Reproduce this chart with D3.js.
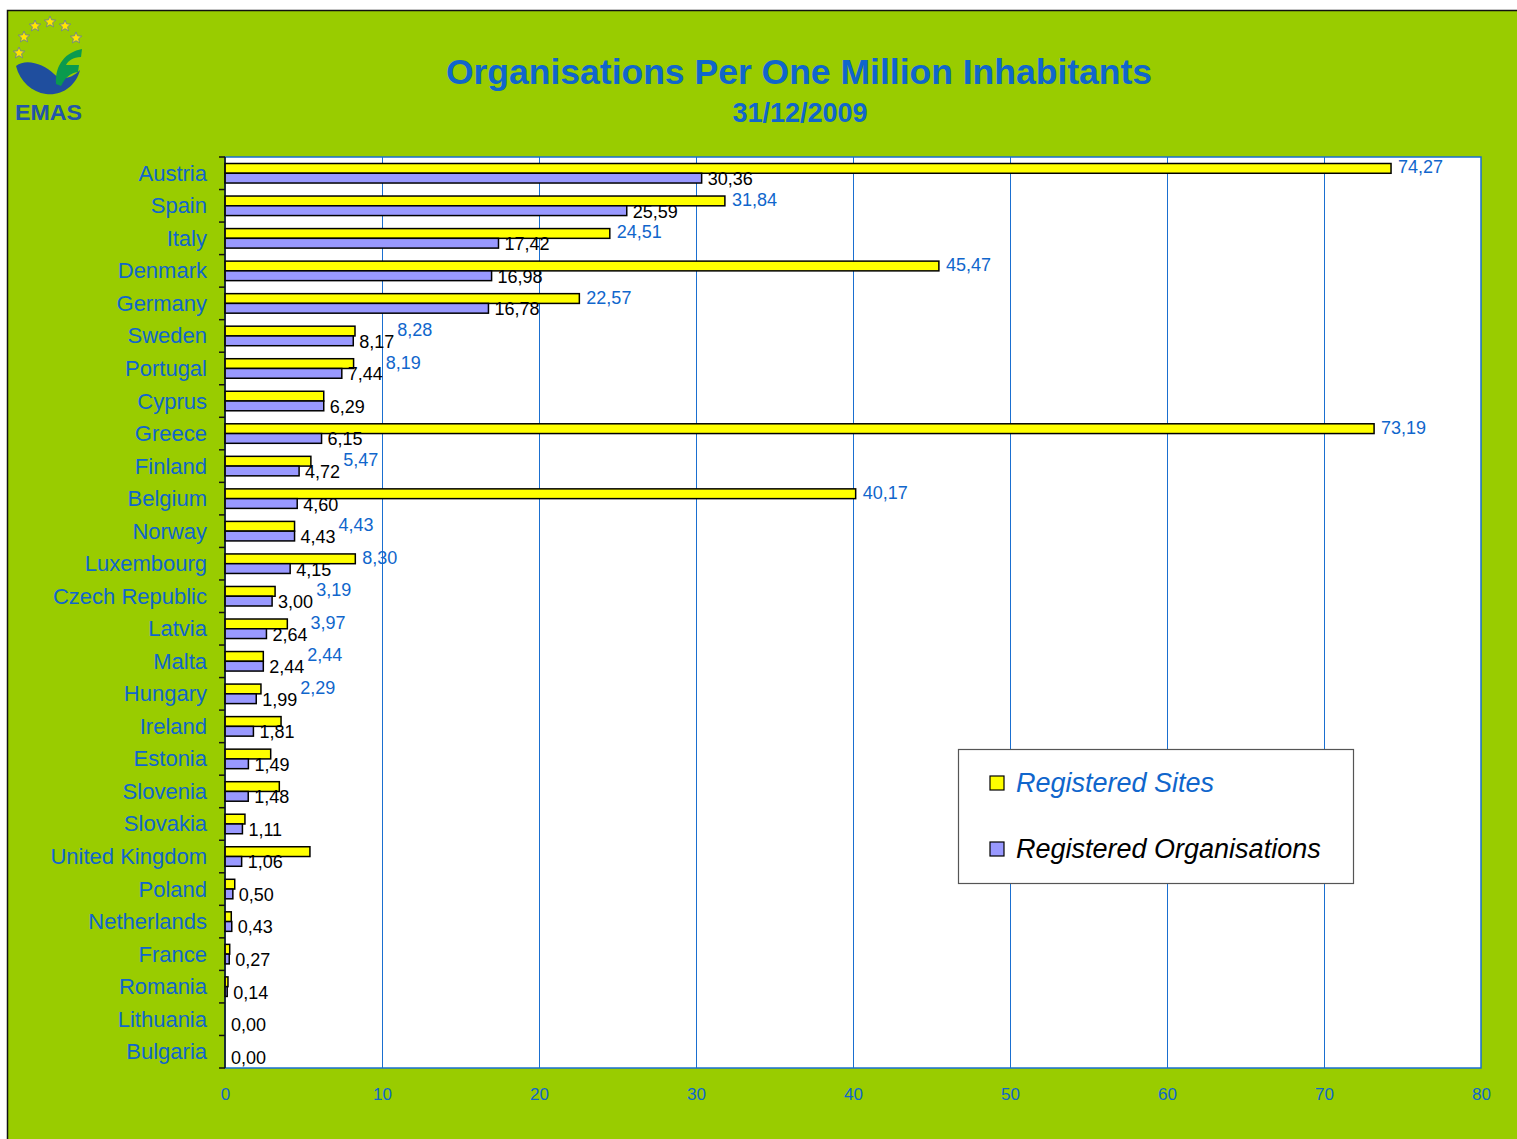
<!DOCTYPE html>
<html><head><meta charset="utf-8">
<script src="https://cdn.jsdelivr.net/npm/d3@7"></script>
<style>body{margin:0;background:#fff;}svg{display:block;font-family:"Liberation Sans",Arial,sans-serif;}</style>
</head><body>
<script>
const categories = ["Austria","Spain","Italy","Denmark","Germany","Sweden","Portugal","Cyprus","Greece","Finland","Belgium","Norway","Luxembourg","Czech Republic","Latvia","Malta","Hungary","Ireland","Estonia","Slovenia","Slovakia","United Kingdom","Poland","Netherlands","France","Romania","Lithuania","Bulgaria"];
const sites = [74.27,31.84,24.51,45.47,22.57,8.28,8.19,6.29,73.19,5.47,40.17,4.43,8.30,3.19,3.97,2.44,2.29,3.57,2.91,3.46,1.27,5.41,0.62,0.40,0.30,0.19,0,0];
const orgs = [30.36,25.59,17.42,16.98,16.78,8.17,7.44,6.29,6.15,4.72,4.60,4.43,4.15,3.00,2.64,2.44,1.99,1.81,1.49,1.48,1.11,1.06,0.50,0.43,0.27,0.14,0.00,0.00];
const labelledSites = ["Austria","Spain","Italy","Denmark","Germany","Sweden","Portugal","Greece","Finland","Belgium","Norway","Luxembourg","Czech Republic","Latvia","Malta","Hungary"];
const xTicks = [0,10,20,30,40,50,60,70,80];
const seriesNames = ["Registered Sites","Registered Organisations"];

const W = 1517, H = 1139;
const BLUE = "#1066CC";
const svg = d3.select("body").append("svg").attr("width", W).attr("height", H);

// page background + border
svg.append("rect").attr("x",7.5).attr("y",10.5).attr("width",W).attr("height",H).attr("fill","#99CC00").attr("stroke","#111").attr("stroke-width",1.5);

// logo
const logo = svg.append("g");
const starPts = [[19,53],[24,37],[35,26],[50,22],[65,26],[76,38]];
const starPath = (cx,cy,r)=>{let p=[];for(let i=0;i<10;i++){const a=-Math.PI/2+i*Math.PI/5;const rr=i%2?r*0.45:r;p.push([cx+rr*Math.cos(a),cy+rr*Math.sin(a)]);}return "M"+p.join("L")+"Z";};
starPts.forEach(s=>logo.append("path").attr("d",starPath(s[0],s[1],6)).attr("fill","#FFE600").attr("stroke","#6677AA").attr("stroke-width",0.8));
logo.append("path").attr("d","M16,66 C26,58 44,64 54,74 C60,80 70,80 80,70 C76,86 62,96 46,94 C32,92 20,82 16,66 Z").attr("fill","#1F4E9E");
logo.append("path").attr("d","M56,84 C55,64 66,52 82,49 L81,57 C73,57 68,61 66,65 L79,65 L78,72 C70,73 65,78 61,86 Z").attr("fill","#0A9A4E");
logo.append("text").attr("x",15).attr("y",120).attr("font-size",22).attr("font-weight","bold").attr("fill","#2255AA").attr("textLength",67).attr("lengthAdjust","spacingAndGlyphs").text("EMAS");

// titles
svg.append("text").attr("x",799).attr("y",84).attr("text-anchor","middle").attr("font-size",35.5).attr("font-weight","bold").attr("fill",BLUE).text("Organisations Per One Million Inhabitants");
svg.append("text").attr("x",800).attr("y",122).attr("text-anchor","middle").attr("font-size",27).attr("font-weight","bold").attr("fill",BLUE).text("31/12/2009");

// plot area
const L = 225, R = 1481, T = 157, B = 1068;
const x = d3.scaleLinear().domain([0,80]).range([L,R]);
const y = d3.scaleBand().domain(categories).range([T,B]).paddingInner(0).paddingOuter(0);
const bw = y.bandwidth();
const barH = bw*0.3;
const off = bw*0.2;

svg.append("rect").attr("x",L).attr("y",T).attr("width",R-L).attr("height",B-T).attr("fill","#fff");

// gridlines
svg.append("g").selectAll("line").data(xTicks.filter(t=>t>0 && t<80)).join("line")
  .attr("x1",d=>x(d)+0.5).attr("x2",d=>x(d)+0.5).attr("y1",T).attr("y2",B)
  .attr("stroke","#1a6fd0").attr("stroke-width",1);

// border
svg.append("rect").attr("x",L).attr("y",T).attr("width",R-L).attr("height",B-T).attr("fill","none").attr("stroke","#1a6fd0").attr("stroke-width",1.5);

// bars
const rows = categories.map((c,i)=>({c,s:sites[i],o:orgs[i]}));
svg.append("g").selectAll("rect").data(rows).join("rect")
  .attr("x",x(0)).attr("y",d=>y(d.c)+off).attr("width",d=>x(d.s)-x(0)).attr("height",barH)
  .attr("fill","#FFFF00").attr("stroke","#000").attr("stroke-width",1.5)
  .attr("visibility",d=>d.s>0?"visible":"hidden");
svg.append("g").selectAll("rect").data(rows).join("rect")
  .attr("x",x(0)).attr("y",d=>y(d.c)+off+barH).attr("width",d=>x(d.o)-x(0)).attr("height",barH)
  .attr("fill","#9999FF").attr("stroke","#000").attr("stroke-width",1.5)
  .attr("visibility",d=>d.o>0?"visible":"hidden");

const fmt = v => v.toFixed(2).replace(".",",");
// organisation labels (black)
const orgLab = svg.append("g").selectAll("text").data(rows).join("text")
  .attr("x",d=>x(d.o)+6).attr("y",d=>y(d.c)+off+barH*1.5+1).attr("dominant-baseline","central")
  .attr("font-size",18).attr("fill","#000").text(d=>fmt(d.o));
const orgEnd = {};
orgLab.each(function(d){ orgEnd[d.c] = [x(d.o)+6, x(d.o)+6+this.getComputedTextLength()]; });
// site labels (blue), nudged right when they would collide with the black label
svg.append("g").selectAll("text").data(rows.filter(d=>labelledSites.includes(d.c))).join("text")
  .attr("font-size",18).attr("fill",BLUE).text(d=>fmt(d.s))
  .attr("y",d=>y(d.c)+off+barH/2-1).attr("dominant-baseline","central")
  .attr("x",function(d){
    let px = x(d.s)+7; const w = this.getComputedTextLength(); const [a,b] = orgEnd[d.c];
    if (px < b+3 && px+w > a-3) px = b+3;
    return px;
  });

// left axis
const yAxis = svg.append("g").attr("transform",`translate(${L},0)`);
yAxis.append("line").attr("x1",0).attr("x2",0).attr("y1",T).attr("y2",B).attr("stroke","#111").attr("stroke-width",1.5);
yAxis.selectAll("line.tk").data(categories.map(c=>y(c)).concat([B])).join("line").attr("class","tk")
  .attr("x1",-6).attr("x2",0).attr("y1",d=>d).attr("y2",d=>d).attr("stroke","#111").attr("stroke-width",1.5);
yAxis.selectAll("text").data(categories).join("text")
  .attr("x",-18).attr("y",d=>y(d)+bw/2).attr("text-anchor","end").attr("dominant-baseline","central")
  .attr("font-size",22).attr("fill",BLUE).text(d=>d);

// bottom axis
const xAxis = d3.axisBottom(x).tickValues(xTicks).tickSize(0).tickPadding(20).tickFormat(d3.format("d"));
const gx = svg.append("g").attr("transform",`translate(0,${B})`).call(xAxis);
gx.select(".domain").remove();
gx.selectAll("text").attr("font-size",17).attr("fill",BLUE).attr("font-family","Liberation Sans, Arial, sans-serif");

// legend
const lg = svg.append("g");
lg.append("rect").attr("x",958.5).attr("y",749.5).attr("width",395).attr("height",134).attr("fill","#fff").attr("stroke","#555").attr("stroke-width",1.2);
const legColors = ["#FFFF00","#9999FF"], legText = [BLUE,"#000"];
seriesNames.forEach((n,i)=>{
  const cy = 783 + i*66;
  lg.append("rect").attr("x",990).attr("y",cy-7).attr("width",14).attr("height",14).attr("fill",legColors[i]).attr("stroke","#000").attr("stroke-width",1.2);
  lg.append("text").attr("x",1016).attr("y",cy).attr("dominant-baseline","central").attr("font-size",27).attr("font-style","italic").attr("fill",legText[i]).text(n);
});
</script>
</body></html>
